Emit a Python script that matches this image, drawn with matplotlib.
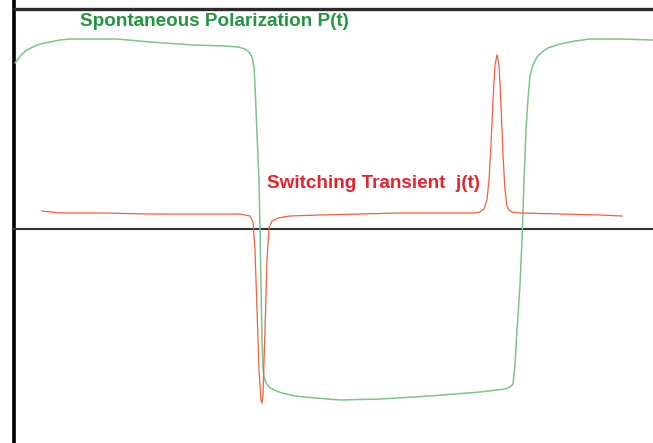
import matplotlib
matplotlib.use('Agg')
import matplotlib.pyplot as plt

# time axis in arbitrary units, signals in arbitrary units (0 = zero line)
t_pol = [15, 18, 22, 27, 33, 40, 50, 60, 70, 90, 117, 150, 193, 225, 238,
         245, 249, 252, 254, 255, 257, 259, 260, 262, 263, 264, 266, 269,
         274, 282, 295, 315, 340, 380, 430, 480, 505, 510, 513, 515, 517,
         520, 522, 524, 526, 528, 530, 533, 537, 542, 548, 560, 575, 590,
         620, 653]
p_pol = [166, 170, 175, 179, 182, 185, 187, 189, 190, 190, 190, 187, 184,
         183, 182, 180, 177, 172, 162, 144, 95, 49, 0, -110, -138, -148,
         -154, -158, -161, -164, -167, -169, -171, -170, -167, -163, -160,
         -158, -155, -136, -101, -56, -11, 49, 99, 130, 153, 164, 172, 177,
         181, 185, 188, 190, 190, 189]

t_sw = [42, 60, 100, 150, 200, 240, 250, 253, 255, 257, 259, 261, 262, 263,
        265, 267, 269, 272, 278, 290, 320, 360, 400, 440, 475, 480, 484, 487,
        489, 491, 493, 495, 497, 499, 501, 503, 505, 507, 509, 512, 520, 560,
        600, 622]
j_sw = [18, 16, 16, 15, 15, 15, 13, 7, -21, -81, -141, -171, -174, -166,
        -101, -31, 1, 8, 11, 13, 14, 15, 16, 16, 16, 17, 20, 29, 49, 84, 129,
        164, 174, 164, 124, 74, 39, 23, 19, 17, 16, 15, 14, 13]

fig = plt.figure(figsize=(6.53, 4.43), dpi=100)
ax = fig.add_axes([0, 0, 1, 1])
ax.set_xlim(0, 653)
ax.set_ylim(-214, 229)
ax.axis('off')

# frame and zero line
ax.axvline(13.5, color='black', lw=2.6)
ax.plot([13, 653], [220, 220], color='#2a2a2a', lw=2.4, solid_capstyle='butt')
ax.plot([13, 653], [0, 0], color='#333333', lw=1.5, solid_capstyle='butt')

ax.plot(t_pol, p_pol, color='#7cc48a', lw=1.1)
ax.plot(t_sw, j_sw, color='#f0603f', lw=0.9)

ax.text(80, 207, 'Spontaneous Polarization P(t)', color='#22963f',
        fontsize=13.6, fontweight='bold', family='Liberation Sans',
        va='center', ha='left')
ax.text(267, 46, 'Switching Transient  j(t)', color='#e5232d',
        fontsize=13.6, fontweight='bold', family='Liberation Sans',
        va='center', ha='left')

fig.savefig('out.png', dpi=100)
